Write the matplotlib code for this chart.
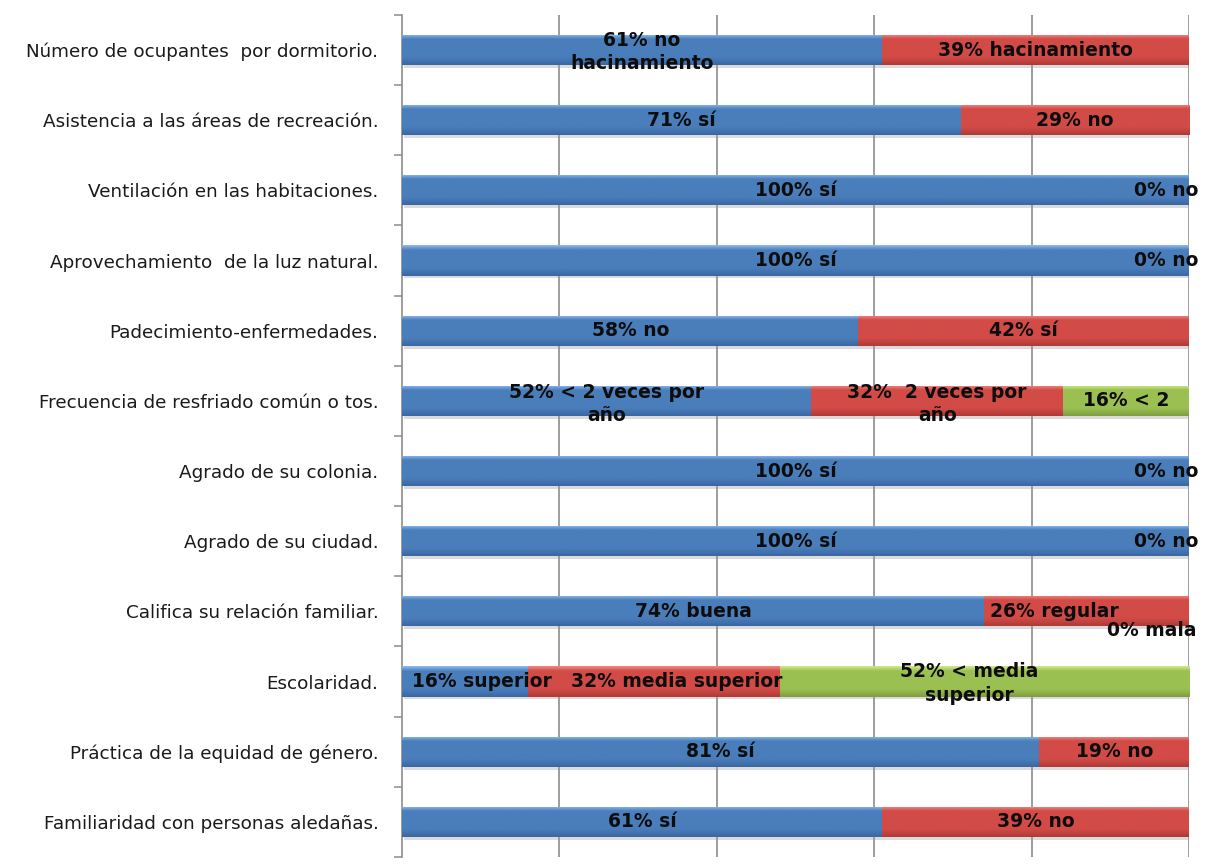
import numpy as np
import matplotlib
matplotlib.use("Agg")
import matplotlib.pyplot as plt
import matplotlib.patheffects as pe
from matplotlib.colors import LinearSegmentedColormap

# Survey items, top to bottom
categories = [
    "Número de ocupantes  por dormitorio.",
    "Asistencia a las áreas de recreación.",
    "Ventilación en las habitaciones.",
    "Aprovechamiento  de la luz natural.",
    "Padecimiento-enfermedades.",
    "Frecuencia de resfriado común o tos.",
    "Agrado de su colonia.",
    "Agrado de su ciudad.",
    "Califica su relación familiar.",
    "Escolaridad.",
    "Práctica de la equidad de género.",
    "Familiaridad con personas aledañas.",
]

# Percentages per segment (first, second, third answer)
first = [61, 71, 100, 100, 58, 52, 100, 100, 74, 16, 81, 61]
second = [39, 29, 0, 0, 42, 32, 0, 0, 26, 32, 19, 39]
third = [0, 0, 0, 0, 0, 16, 0, 0, 0, 52, 0, 0]

first_labels = ["no\nhacinamiento", "sí", "sí", "sí", "no", "< 2 veces por\naño",
                "sí", "sí", "buena", "superior", "sí", "sí"]
second_labels = ["hacinamiento", "no", "no", "no", "sí", " 2 veces por\naño",
                 "no", "no", "regular", "media superior", "no", "no"]
third_labels = [None, None, None, None, None, "< 2",
                None, None, "mala", "< media\nsuperior", None, None]

# label nudges in pixels (row, segment) -> (dx, dy)
nudges = {
    (2, 1): (-23, 0), (3, 1): (-23, 0), (6, 1): (-23, 0), (7, 1): (-23, 0),
    (8, 1): (-32, 0), (8, 2): (-37, -19),
    (9, 0): (17, 0), (9, 1): (23, 0), (9, 2): (-15, 0),
    (0, 0): (0, -2), (5, 0): (0, -3), (5, 1): (0, -3), (9, 2): (-15, -2),
}

# base, light top, dark bottom
palette = [
    ("#4a7ebb", "#8fbcf0", "#3a67a3"),
    ("#d24b47", "#f08a86", "#b03a36"),
    ("#9bc052", "#d2ea8a", "#7f9e3f"),
]

fig = plt.figure(figsize=(12.13, 8.66), dpi=100)
ax = fig.add_axes([0.3314, 0.0104, 0.6488, 0.9723])

y = np.arange(len(categories))
bar_h = 0.43
grad = np.linspace(0, 1, 64).reshape(-1, 1)

left = np.zeros(len(categories))
for seg, (vals, labs) in enumerate(zip([first, second, third],
                                        [first_labels, second_labels, third_labels])):
    vals = np.array(vals, dtype=float)
    base, light, dark = palette[seg]
    cmap = LinearSegmentedColormap.from_list(
        f"seg{seg}", [(0, light), (0.15, base), (0.75, base), (1, dark)])
    bars = ax.barh(y, vals, left=left, height=bar_h, color=base,
                   edgecolor="none", zorder=3)
    for i, rect in enumerate(bars):
        if vals[i] > 0:
            rect.set_path_effects([pe.SimplePatchShadow(offset=(1.5, -2),
                                                        shadow_rgbFace="#999999",
                                                        alpha=0.35),
                                   pe.Normal()])
            x0 = left[i]
            im = ax.imshow(grad, cmap=cmap, aspect="auto", interpolation="bicubic",
                           extent=(x0, x0 + vals[i], y[i] + bar_h / 2, y[i] - bar_h / 2),
                           zorder=4)
            im.set_clip_path(rect)
        if labs[i] is None:
            continue
        dx, dy = nudges.get((i, seg), (0, 0))
        ax.annotate(f"{vals[i]:.0f}% {labs[i]}", (left[i] + vals[i] / 2, y[i]),
                    xytext=(dx, dy), textcoords="offset pixels",
                    ha="center", va="center", fontsize=13.5, fontweight="bold",
                    color="#0d0d0d", zorder=6, linespacing=1.3)
    left = left + vals

ax.set_xlim(0, 100)
ax.set_ylim(len(categories) - 0.5, -0.5)

# vertical gridlines every 20 %
for gx in range(20, 101, 20):
    ax.axvline(gx, color="#8c8c8c", lw=1.2, zorder=1)

ax.set_xticks([])
ax.set_yticks(y)
ax.set_yticklabels(categories, fontsize=13.2, color="#1a1a1a")
ax.set_yticks(np.arange(-0.5, len(categories), 1), minor=True)
ax.tick_params(axis="y", which="major", length=0, pad=17)
ax.tick_params(axis="y", which="minor", length=6, width=1.1, color="#8c8c8c",
               direction="out")
for side in ["top", "right", "bottom"]:
    ax.spines[side].set_visible(False)
ax.spines["left"].set_color("#8c8c8c")
ax.spines["left"].set_linewidth(1.2)

fig.savefig("out.png", dpi=100)
